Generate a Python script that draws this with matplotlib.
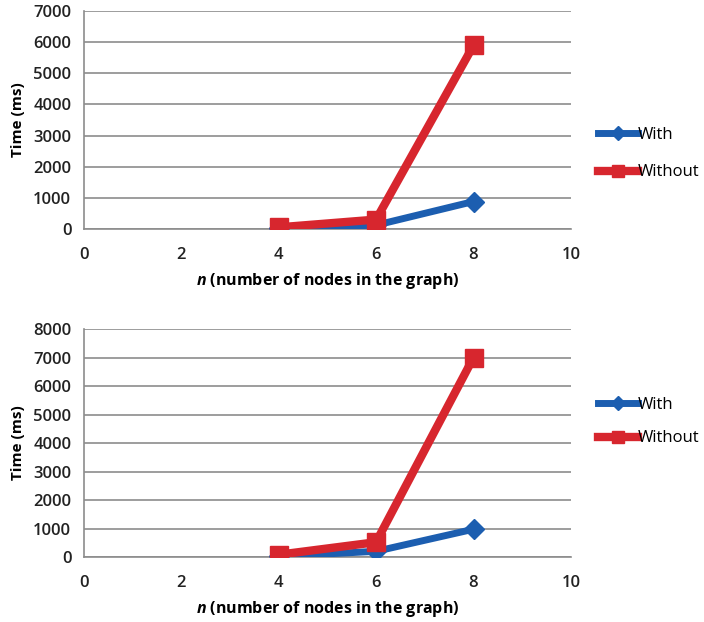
import matplotlib
matplotlib.use("Agg")
import matplotlib.pyplot as plt

# Daten
n_nodes = [4, 6, 8]
top_with = [20, 120, 880]
top_without = [50, 300, 5900]
bottom_with = [20, 200, 975]
bottom_without = [80, 520, 7000]

x_ticks = [0, 2, 4, 6, 8, 10]
top_yticks = [0, 1000, 2000, 3000, 4000, 5000, 6000, 7000]
bottom_yticks = [0, 1000, 2000, 3000, 4000, 5000, 6000, 7000, 8000]

blue = "#1c5eb0"
red = "#d7262e"
grid_col = "#8c8c8c"
font = "Open Sans"

plt.rcParams["mathtext.fontset"] = "custom"
plt.rcParams["mathtext.bfit"] = "Open Sans:bold:italic"

fig = plt.figure(figsize=(7.04, 6.22), dpi=100)
ax_top = fig.add_axes([0.119, 0.632, 0.692, 0.350])
ax_bot = fig.add_axes([0.119, 0.1045, 0.692, 0.3665])


def draw(ax, with_vals, without_vals, yticks, legend_y, spacing):
    l1, = ax.plot(n_nodes, with_vals, color=blue, lw=5, marker="D",
                  markersize=10, label="With", zorder=3)
    l2, = ax.plot(n_nodes, without_vals, color=red, lw=6, marker="s",
                  markersize=13, label="Without", zorder=4)
    ax.set_xlim(0, 10)
    ax.set_ylim(0, yticks[-1])
    ax.set_xticks(x_ticks)
    ax.set_yticks(yticks)
    ax.grid(axis="y", color=grid_col, lw=1.2)
    ax.set_axisbelow(True)
    for s in ["top", "right"]:
        ax.spines[s].set_visible(False)
    for s in ["left", "bottom"]:
        ax.spines[s].set_color(grid_col)
        ax.spines[s].set_linewidth(1.2)
    ax.tick_params(axis="x", length=0, pad=13, labelsize=12, colors="#222222")
    ax.tick_params(axis="y", length=0, pad=9, labelsize=12, colors="#222222")
    for lab in ax.get_xticklabels() + ax.get_yticklabels():
        lab.set_fontfamily(font)
        lab.set_fontweight("semibold")
    ax.set_ylabel("Time (ms)", fontsize=11, fontweight="bold",
                  fontfamily=font, labelpad=6)
    ax.set_xlabel(r"$\mathbfit{n}$ (number of nodes in the graph)", fontsize=11.5,
                  fontweight="bold", fontfamily=font, labelpad=6)
    ax.legend(handles=[l1, l2], loc="center left",
              bbox_to_anchor=(1.055, legend_y), frameon=False,
              borderaxespad=0, borderpad=0,
              prop={"family": font, "size": 12}, handlelength=2.4,
              handletextpad=0.0, labelspacing=spacing, markerscale=0.7)


draw(ax_top, top_with, top_without, top_yticks, 0.346, 1.3)
draw(ax_bot, bottom_with, bottom_without, bottom_yticks, 0.594, 1.05)

fig.savefig("out.png", dpi=100)
